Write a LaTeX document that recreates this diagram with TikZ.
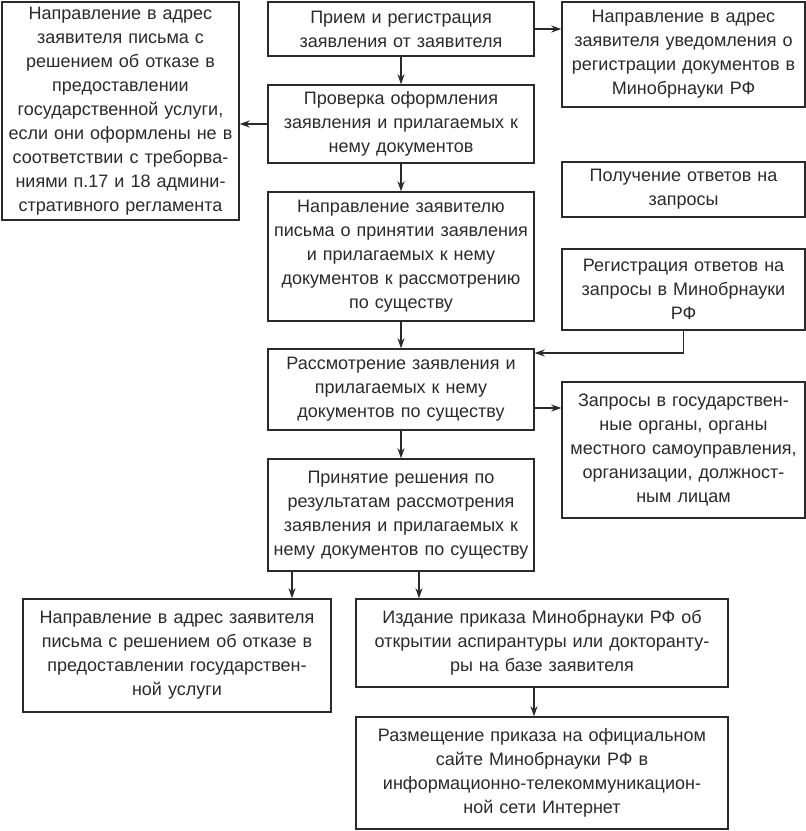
\documentclass[tikz,border=0pt]{standalone}
\usepackage{fontspec}
\setmainfont{Liberation Sans}
\usetikzlibrary{arrows.meta}
\definecolor{ink}{HTML}{2A2A2A}
\tikzset{
  box/.style={draw=ink, line width=1.4pt, rectangle, align=center, inner xsep=2pt, inner ysep=0pt,
    text=ink, font=\fontsize{18}{24}\selectfont},
  arr/.style={draw=ink, line width=1.4pt, -{Stealth[length=10pt,width=7pt]}}
}
\newcommand{\bx}[7]{% name, x1, y1, x2, y2, text
  \node[box, minimum width={#4-#2}, minimum height={#5-#3}, text width={#4-#2-6}] (#1) at ({(#2+#4)/2},{(#3+#5)/2}) {#6};}
\begin{document}
\begin{tikzpicture}[x=1pt,y=-1pt]
\useasboundingbox (0,0) rectangle (806,831);
\bx{b1}{2}{2}{239}{220}{Направление в адрес\\заявителя письма с\\решением об отказе в\\предоставлении\\государственной услуги,\\если они оформлены не в\\соответствии с треборва-\\ниями п.17 и 18 админи-\\стративного регламента}{}
\bx{b2}{268}{2}{534}{56}{Прием и регистрация\\заявления от заявителя}{}
\bx{b3}{562}{2}{805}{107}{Направление в адрес\\заявителя уведомления о\\регистрации документов в\\Минобрнауки РФ}{}
\bx{b4}{268}{85}{534}{163}{Проверка оформления\\заявления и прилагаемых к\\нему документов}{}
\bx{b5}{562}{162}{805}{217}{Получение ответов на\\запросы}{}
\bx{b6}{268}{192}{534}{321}{Направление заявителю\\письма о принятии заявления\\и прилагаемых к нему\\документов к рассмотрению\\по существу}{}
\bx{b7}{562}{249}{805}{330}{Регистрация ответов на\\запросы в Минобрнауки\\РФ}{}
\bx{b8}{268}{349}{534}{430}{Рассмотрение заявления и\\прилагаемых к нему\\документов по существу}{}
\bx{b9}{562}{382}{805}{518}{Запросы в государствен-\\ные органы, органы\\местного самоуправления,\\организации, должност-\\ным лицам}{}
\bx{b10}{268}{459}{534}{571}{Принятие решения по\\результатам рассмотрения\\заявления и прилагаемых к\\нему документов по существу}{}
\bx{b11}{23}{599}{331}{712}{Направление в адрес заявителя\\письма с решением об отказе в\\предоставлении государствен-\\ной услуги}{}
\bx{b12}{356}{599}{728}{687}{Издание приказа Минобрнауки РФ об\\открытии аспирантуры или докторанту-\\ры на базе заявителя}{}
\bx{b13}{356}{717}{728}{829}{Размещение приказа на официальном\\сайте Минобрнауки РФ в\\информационно-телекоммуникацион-\\ной сети Интернет}{}
\coordinate (c24) at (401,0);
\coordinate (a89) at (0,408);
\coordinate (a78) at (0,353);
\coordinate (c1011) at (292,0);
\coordinate (c1012) at (419,0);
\coordinate (c1213) at (534,0);
\draw[arr] (b2.south -| c24) -- (b4.north -| c24);
\draw[arr] (b4.south -| c24) -- (b6.north -| c24);
\draw[arr] (b6.south -| c24) -- (b8.north -| c24);
\draw[arr] (b8.south -| c24) -- (b10.north -| c24);
\draw[arr] (b2.east) -- (b2.east -| b3.west);
\draw[arr] (b4.west) -- (b4.west -| b1.east);
\draw[arr] (b8.east |- a89) -- (b9.west |- a89);
\draw[arr] (b7.south) |- (b8.east |- a78);
\draw[arr] (b10.south -| c1011) -- (b11.north -| c1011);
\draw[arr] (b10.south -| c1012) -- (b12.north -| c1012);
\draw[arr] (b12.south -| c1213) -- (b13.north -| c1213);
\end{tikzpicture}
\end{document}
